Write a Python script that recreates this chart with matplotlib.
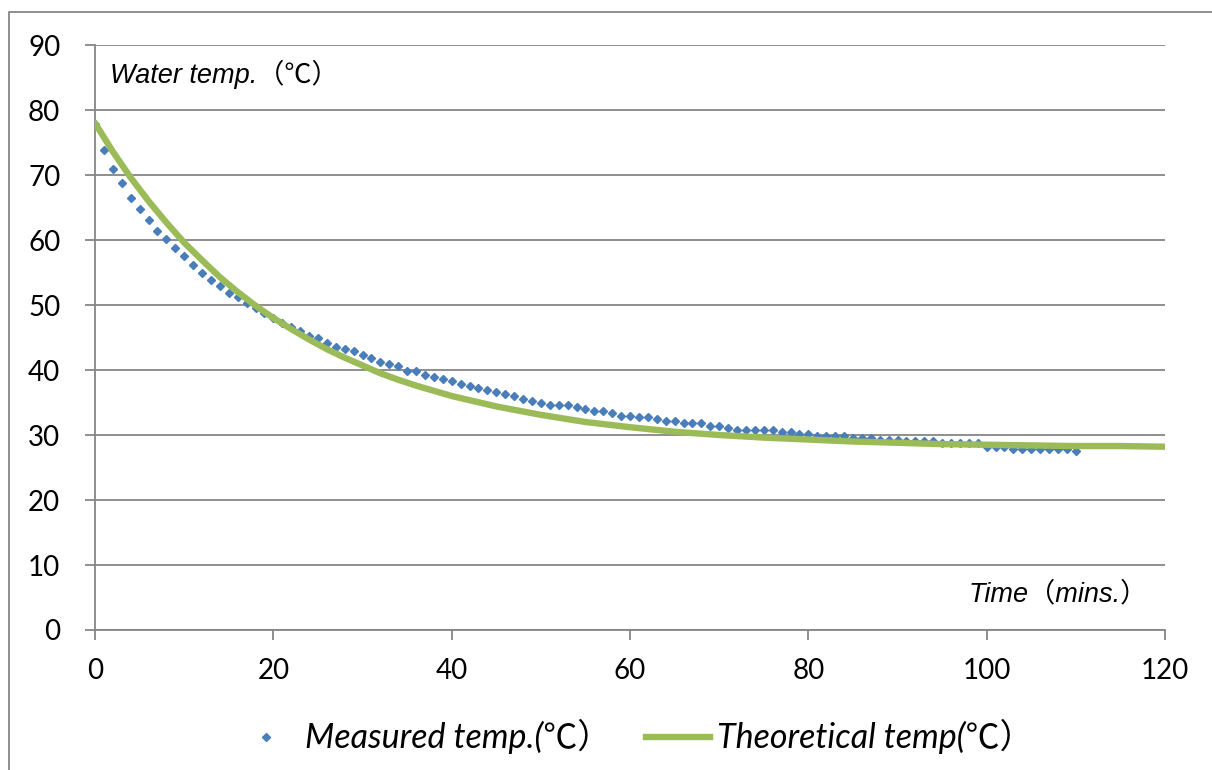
import matplotlib.pyplot as plt
from matplotlib.lines import Line2D
from matplotlib.patches import Rectangle

# measured water temperature, one reading per minute (0..110)
measured_time = list(range(0, 111))
measured_temp = [
    77.8, 73.9, 70.9, 68.7, 66.4, 64.7, 63.1, 61.4, 60.1, 58.8,
    57.5, 56.2, 54.9, 53.8, 52.9, 51.9, 51.2, 50.3, 49.6, 48.8,
    48.0, 47.3, 46.6, 46.0, 45.3, 44.9, 44.2, 43.5, 43.2, 42.9,
    42.3, 41.9, 41.3, 40.9, 40.6, 39.9, 39.9, 39.2, 38.9, 38.6,
    38.3, 37.9, 37.6, 37.3, 36.9, 36.6, 36.3, 36.0, 35.6, 35.3,
    34.9, 34.6, 34.6, 34.6, 34.3, 34.0, 33.7, 33.7, 33.4, 33.0,
    33.0, 32.7, 32.7, 32.4, 32.1, 32.1, 31.8, 31.8, 31.8, 31.4,
    31.4, 31.1, 30.8, 30.8, 30.8, 30.8, 30.8, 30.5, 30.5, 30.1,
    30.1, 29.8, 29.8, 29.8, 29.8, 29.5, 29.5, 29.5, 29.2, 29.2,
    29.2, 29.1, 29.1, 29.1, 29.1, 28.7, 28.7, 28.7, 28.7, 28.7,
    28.1, 28.1, 28.1, 27.8, 27.8, 27.8, 27.8, 27.8, 27.8, 27.8,
    27.5,
]

# theoretical curve
theory_time = [0, 2, 4, 6, 8, 10, 12, 14, 16, 18, 20, 22, 24, 26, 28, 30,
               32, 34, 36, 38, 40, 45, 50, 55, 60, 65, 70, 75, 80, 85, 90,
               95, 100, 105, 110, 115, 120]
theory_temp = [78.0, 73.6, 69.6, 66.0, 62.7, 59.6, 56.9, 54.3, 52.0, 49.9,
               48.0, 46.3, 44.7, 43.2, 41.9, 40.7, 39.5, 38.5, 37.6, 36.8,
               36.0, 34.4, 33.1, 32.0, 31.2, 30.5, 30.0, 29.6, 29.3, 29.0,
               28.8, 28.6, 28.5, 28.4, 28.3, 28.3, 28.2]

x_ticks = [0, 20, 40, 60, 80, 100, 120]
y_ticks = [0, 10, 20, 30, 40, 50, 60, 70, 80, 90]

blue = '#4A7EBB'
green = '#9BBB59'
gray = '#868686'
cjk = ['Lato', 'Noto Sans CJK SC', 'DejaVu Sans']
arial = ['Liberation Sans', 'Noto Sans CJK SC', 'DejaVu Sans']

fig = plt.figure(figsize=(12.12, 7.70), dpi=100)
ax = fig.add_axes([95 / 1212, 1 - 630 / 770, 1070 / 1212, 585 / 770])

ax.plot(measured_time, measured_temp, linestyle='none', marker='D',
        markersize=4.0, color=blue, zorder=3)
ax.plot(theory_time, theory_temp, color=green, linewidth=4.6,
        solid_capstyle='round', zorder=4)

ax.set_xlim(0, 120)
ax.set_ylim(0, 90)
ax.set_xticks(x_ticks)
ax.set_yticks(y_ticks)
ax.yaxis.grid(True, color=gray, linewidth=1.3)
ax.set_axisbelow(True)
for s in ['top', 'right']:
    ax.spines[s].set_visible(False)
for s in ['left', 'bottom']:
    ax.spines[s].set_color(gray)
    ax.spines[s].set_linewidth(1.3)
ax.tick_params(axis='both', colors=gray, width=1.3, length=7, direction='out')
ax.tick_params(axis='y', pad=18)
ax.tick_params(axis='x', pad=13)
for lab in ax.get_xticklabels() + ax.get_yticklabels():
    lab.set_color('black')
    lab.set_fontsize(20)
    lab.set_family(cjk)

ax.text(0.014, 0.949, 'Water temp.（℃）', transform=ax.transAxes,
        va='center', ha='left', fontsize=19.5, style='italic', family=arial)
ax.text(0.984, 0.06, 'Time（mins.）', transform=ax.transAxes,
        va='center', ha='right', fontsize=19.5, style='italic', family=arial)

handles = [
    Line2D([], [], linestyle='none', marker='D', markersize=4.0, color=blue),
    Line2D([], [], color=green, linewidth=4.6),
]
fig.legend(handles, ['Measured temp.(℃）', 'Theoretical temp(℃）'],
           loc='center', bbox_to_anchor=(0.523, 0.043), ncol=2, frameon=False,
           prop={'family': cjk, 'style': 'italic', 'size': 24.5},
           handlelength=1.9, handletextpad=0.2, columnspacing=1.0)

# outer chart border (runs off the right and bottom of the image)
fig.patches.append(Rectangle((9 / 1212, -0.1), 1.2, 1.1 - 12 / 770,
                             transform=fig.transFigure, fill=False,
                             edgecolor=gray, linewidth=1.3))

fig.savefig('out.png', dpi=100)
